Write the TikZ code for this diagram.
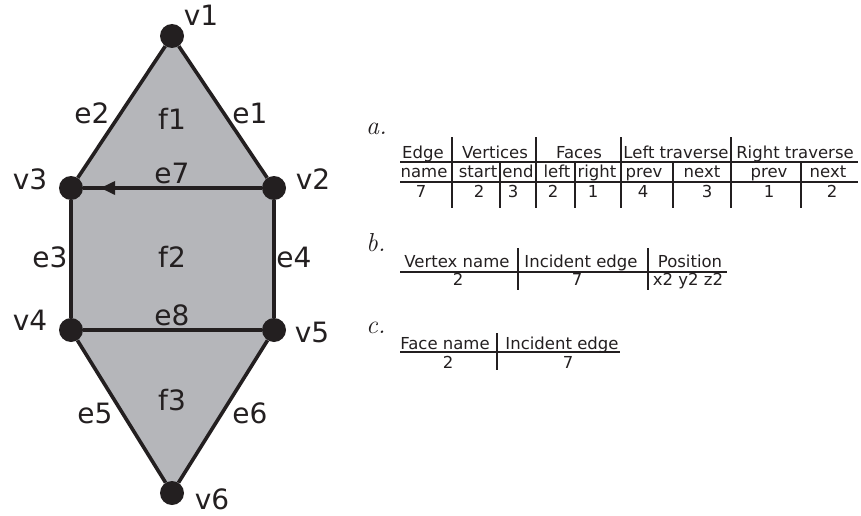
\documentclass[tikz,border=0pt]{standalone}
\usepackage{fontspec}
\setsansfont{DejaVu Sans}
\usetikzlibrary{arrows.meta}
\usetikzlibrary{decorations.markings}
\usetikzlibrary{backgrounds}

\definecolor{ink}{RGB}{35,31,32}
\definecolor{facegray}{RGB}{181,182,186}

\tikzset{
  vertex/.style={circle, fill=ink, inner sep=0pt, minimum size=24pt},
  edge/.style={draw=ink, line width=3.6pt},
  halfedge/.style={edge, postaction={decorate}, decoration={markings,
      mark=at position -17pt with {\arrow{Triangle[length=15pt, width=13pt]}}}},
  glabel/.style={anchor=base, inner sep=0pt, text=ink, font=\sffamily\fontsize{28}{30}\selectfont},
  tlabel/.style={anchor=base, inner sep=0pt, text=ink, font=\sffamily\fontsize{16.5}{18}\selectfont},
  tabletag/.style={anchor=base west, inner sep=0pt, text=ink, font=\itshape\fontsize{26}{28}\selectfont},
  rule/.style={draw=ink, line width=1.5pt},
}

\begin{document}
\begin{tikzpicture}[x=1pt, y=-1pt]
  \useasboundingbox (0,0) rectangle (861,516);

  % mesh
  \node[vertex] (v1) at (172,36) {};
  \node[vertex] (v2) at (274,188) {};
  \node[vertex] (v3) at (71,188) {};
  \node[vertex] (v4) at (71,330) {};
  \node[vertex] (v5) at (274,330) {};
  \node[vertex] (v6) at (172,493) {};

  \begin{scope}[on background layer]
    \fill[facegray] (v1.center) -- (v2.center) -- (v5.center) -- (v6.center) -- (v4.center) -- (v3.center) -- cycle;
  \end{scope}

  \draw[edge] (v1) -- (v2);
  \draw[edge] (v1) -- (v3);
  \draw[edge] (v3) -- (v4);
  \draw[edge] (v2) -- (v5);
  \draw[edge] (v4) -- (v5);
  \draw[edge] (v4) -- (v6);
  \draw[edge] (v5) -- (v6);
  \draw[halfedge] (v2) -- (v3);

  \node[glabel] (lv1) at (201,26) {v1};
  \node[glabel] (lv2) at (313,189) {v2};
  \node[glabel] (lv3) at (30,189) {v3};
  \node[glabel] (lv4) at (30,330) {v4};
  \node[glabel] (lv5) at (312,342) {v5};
  \node[glabel] (lv6) at (212,509) {v6};

  \node[glabel] (le1) at (250,124) {e1};
  \node[glabel] (le2) at (92,124) {e2};
  \node[glabel] (le3) at (50,267) {e3};
  \node[glabel] (le4) at (294,267) {e4};
  \node[glabel] (le5) at (95,423) {e5};
  \node[glabel] (le6) at (250,423) {e6};
  \node[glabel] (le7) at (172,183) {e7};
  \node[glabel] (le8) at (172,325) {e8};

  \node[glabel] (lf1) at (172,129) {f1};
  \node[glabel] (lf2) at (172,267) {f2};
  \node[glabel] (lf3) at (172,410) {f3};

  % table a: edge record
  \node[tabletag] (taga) at (366,135) {a.};
  \node[tlabel] (aedge) at (423,158) {Edge};
  \node[tlabel] (avert) at (495,158) {Vertices};
  \node[tlabel] (aface) at (579,158) {Faces};
  \node[tlabel] (aleft) at (676,158) {Left traverse};
  \node[tlabel] (aright) at (795,158) {Right traverse};

  \node[tlabel] (aname) at (424,177) {name};
  \node[tlabel] (astart) at (478,177) {start};
  \node[tlabel] (aend) at (518,177) {end};
  \node[tlabel] (afleft) at (557,177) {left};
  \node[tlabel] (afright) at (597,177) {right};
  \node[tlabel] (alprev) at (644,177) {prev};
  \node[tlabel] (alnext) at (702,177) {next};
  \node[tlabel] (arprev) at (769,177) {prev};
  \node[tlabel] (arnext) at (828,177) {next};

  \node[tlabel] (aname7) at (421,197) {7};
  \node[tlabel] (astart2) at (479,197) {2};
  \node[tlabel] (aend3) at (513,197) {3};
  \node[tlabel] (afleft2) at (553,197) {2};
  \node[tlabel] (afright1) at (593,197) {1};
  \node[tlabel] (alprev4) at (643,197) {4};
  \node[tlabel] (alnext3) at (707,197) {3};
  \node[tlabel] (arprev1) at (769,197) {1};
  \node[tlabel] (arnext2) at (832,197) {2};

  \draw[rule] (400,162) -- (858,162);
  \draw[rule] (400,182) -- (858,182);
  \draw[rule] (452,137) -- (452,208);
  \draw[rule] (536,137) -- (536,208);
  \draw[rule] (621,137) -- (621,208);
  \draw[rule] (731,137) -- (731,208);
  \draw[rule] (500,162) -- (500,208);
  \draw[rule] (575,162) -- (575,208);
  \draw[rule] (673,162) -- (673,208);
  \draw[rule] (801,162) -- (801,208);

  % table b: vertex record
  \node[tabletag] (tagb) at (366,251) {b.};
  \node[tlabel] (bname) at (457,267) {Vertex name};
  \node[tlabel] (bedge) at (581,267) {Incident edge};
  \node[tlabel] (bpos) at (690,267) {Position};
  \node[tlabel] (bname2) at (458,285) {2};
  \node[tlabel] (bedge7) at (577,285) {7};
  \node[tlabel] (bposxyz) at (688,285) {x2 y2 z2};
  \draw[rule] (400,272) -- (727,272);
  \draw[rule] (518,248) -- (518,290);
  \draw[rule] (648,248) -- (648,290);

  % table c: face record
  \node[tabletag] (tagc) at (366,333) {c.};
  \node[tlabel] (cname) at (445,349) {Face name};
  \node[tlabel] (cedge) at (562,349) {Incident edge};
  \node[tlabel] (cname2) at (448,368) {2};
  \node[tlabel] (cedge7) at (568,368) {7};
  \draw[rule] (400,352) -- (620,352);
  \draw[rule] (497,333) -- (497,370);
\end{tikzpicture}
\end{document}
